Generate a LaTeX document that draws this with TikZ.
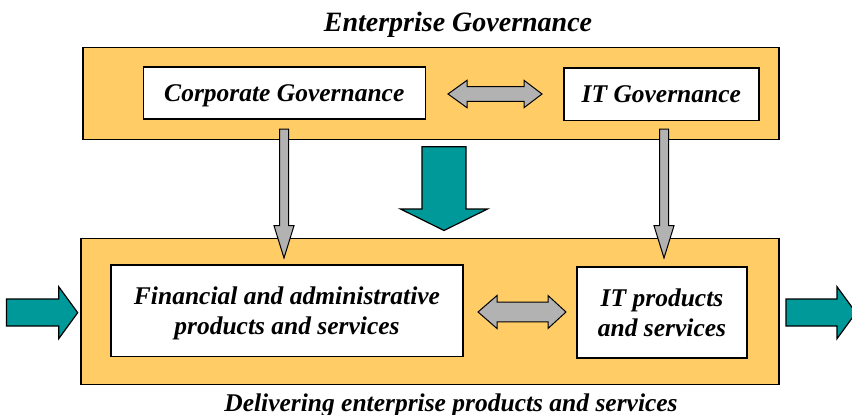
\documentclass[tikz,border=0pt]{standalone}
\usepackage{fontspec}
\setmainfont{Liberation Serif}
\begin{document}
\begin{tikzpicture}[x=1pt,y=-1pt,
  panel/.style={draw=black,line width=1.4pt,fill=panelfill,inner sep=0pt},
  card/.style={draw=black,line width=1.4pt,fill=white,inner sep=0pt,align=center,
    text depth=0pt,font=\fontsize{25.5}{30}\selectfont\bfseries\itshape},
  caption/.style={font=\fontsize{25.5}{30}\selectfont\bfseries\itshape,inner sep=0pt,anchor=base},
  greyblock/.style={draw=black,line width=1pt,fill=arrowgrey,line join=miter},
  tealblock/.style={draw=black,line width=1.2pt,fill=arrowteal,line join=miter}]
\definecolor{panelfill}{HTML}{FFCC66}
\definecolor{arrowgrey}{HTML}{B2B2B2}
\definecolor{arrowteal}{HTML}{009999}
\useasboundingbox (0,0) rectangle (852,415);

% outer panels
\node[panel,minimum width=696pt,minimum height=92pt] (govpanel) at (431,93.3) {};
\node[panel,minimum width=698pt,minimum height=146pt] (delpanel) at (430,311.5) {};

% captions
\node[caption,font=\fontsize{28}{32}\selectfont\bfseries\itshape] (govtitle) at (458,31) {Enterprise Governance};
\node[caption] (deltitle) at (451,411) {Delivering enterprise products and services};

% inner boxes
\node[card,minimum width=282pt,minimum height=52pt] (corp) at (284.3,93) {Corporate Governance};
\node[card,minimum width=195pt,minimum height=52.7pt] (itgov) at (661.3,94.3) {IT Governance};
\node[card,minimum width=352pt,minimum height=91.7pt] (fin) at (287,310.8)
  {Financial and administrative\\products and services};
\node[card,minimum width=170pt,minimum height=91pt] (itprod) at (662,312.5)
  {IT products\\and services};

% horizontal two-way arrows between the boxes
\draw[greyblock] (448,94) -- (467,80.3) -- (467,86.7) -- (524,86.7) -- (524,80.3)
  -- (542,94) -- (524,107.7) -- (524,101.3) -- (467,101.3) -- (467,107.7) -- cycle;
\draw[greyblock] (478,312) -- (497,295.5) -- (497,302.2) -- (548,302.2) -- (548,295.5)
  -- (566,312) -- (548,328.5) -- (548,321.8) -- (497,321.8) -- (497,328.5) -- cycle;

% governance flowing down into delivery
\draw[greyblock] (279.5,129) -- (288.5,129) -- (288.5,225.7) -- (294,225.7) -- (284,258)
  -- (274,225.7) -- (279.5,225.7) -- cycle;
\draw[greyblock] (659.5,129) -- (668.5,129) -- (668.5,225.7) -- (674,225.7) -- (664,258)
  -- (654,225.7) -- (659.5,225.7) -- cycle;
\draw[tealblock] (422,146.7) -- (466,146.7) -- (466,209) -- (487.5,209) -- (444,230.5)
  -- (400.5,209) -- (422,209) -- cycle;

% input and output of the delivery panel
\draw[tealblock] (6.5,299) -- (58.7,299) -- (58.7,286.7) -- (77.7,312.7) -- (58.7,338.7)
  -- (58.7,326) -- (6.5,326) -- cycle;
\draw[tealblock] (786,299) -- (837,299) -- (837,286.7) -- (856,312.7) -- (837,338.7)
  -- (837,326) -- (786,326) -- cycle;
\end{tikzpicture}
\end{document}
